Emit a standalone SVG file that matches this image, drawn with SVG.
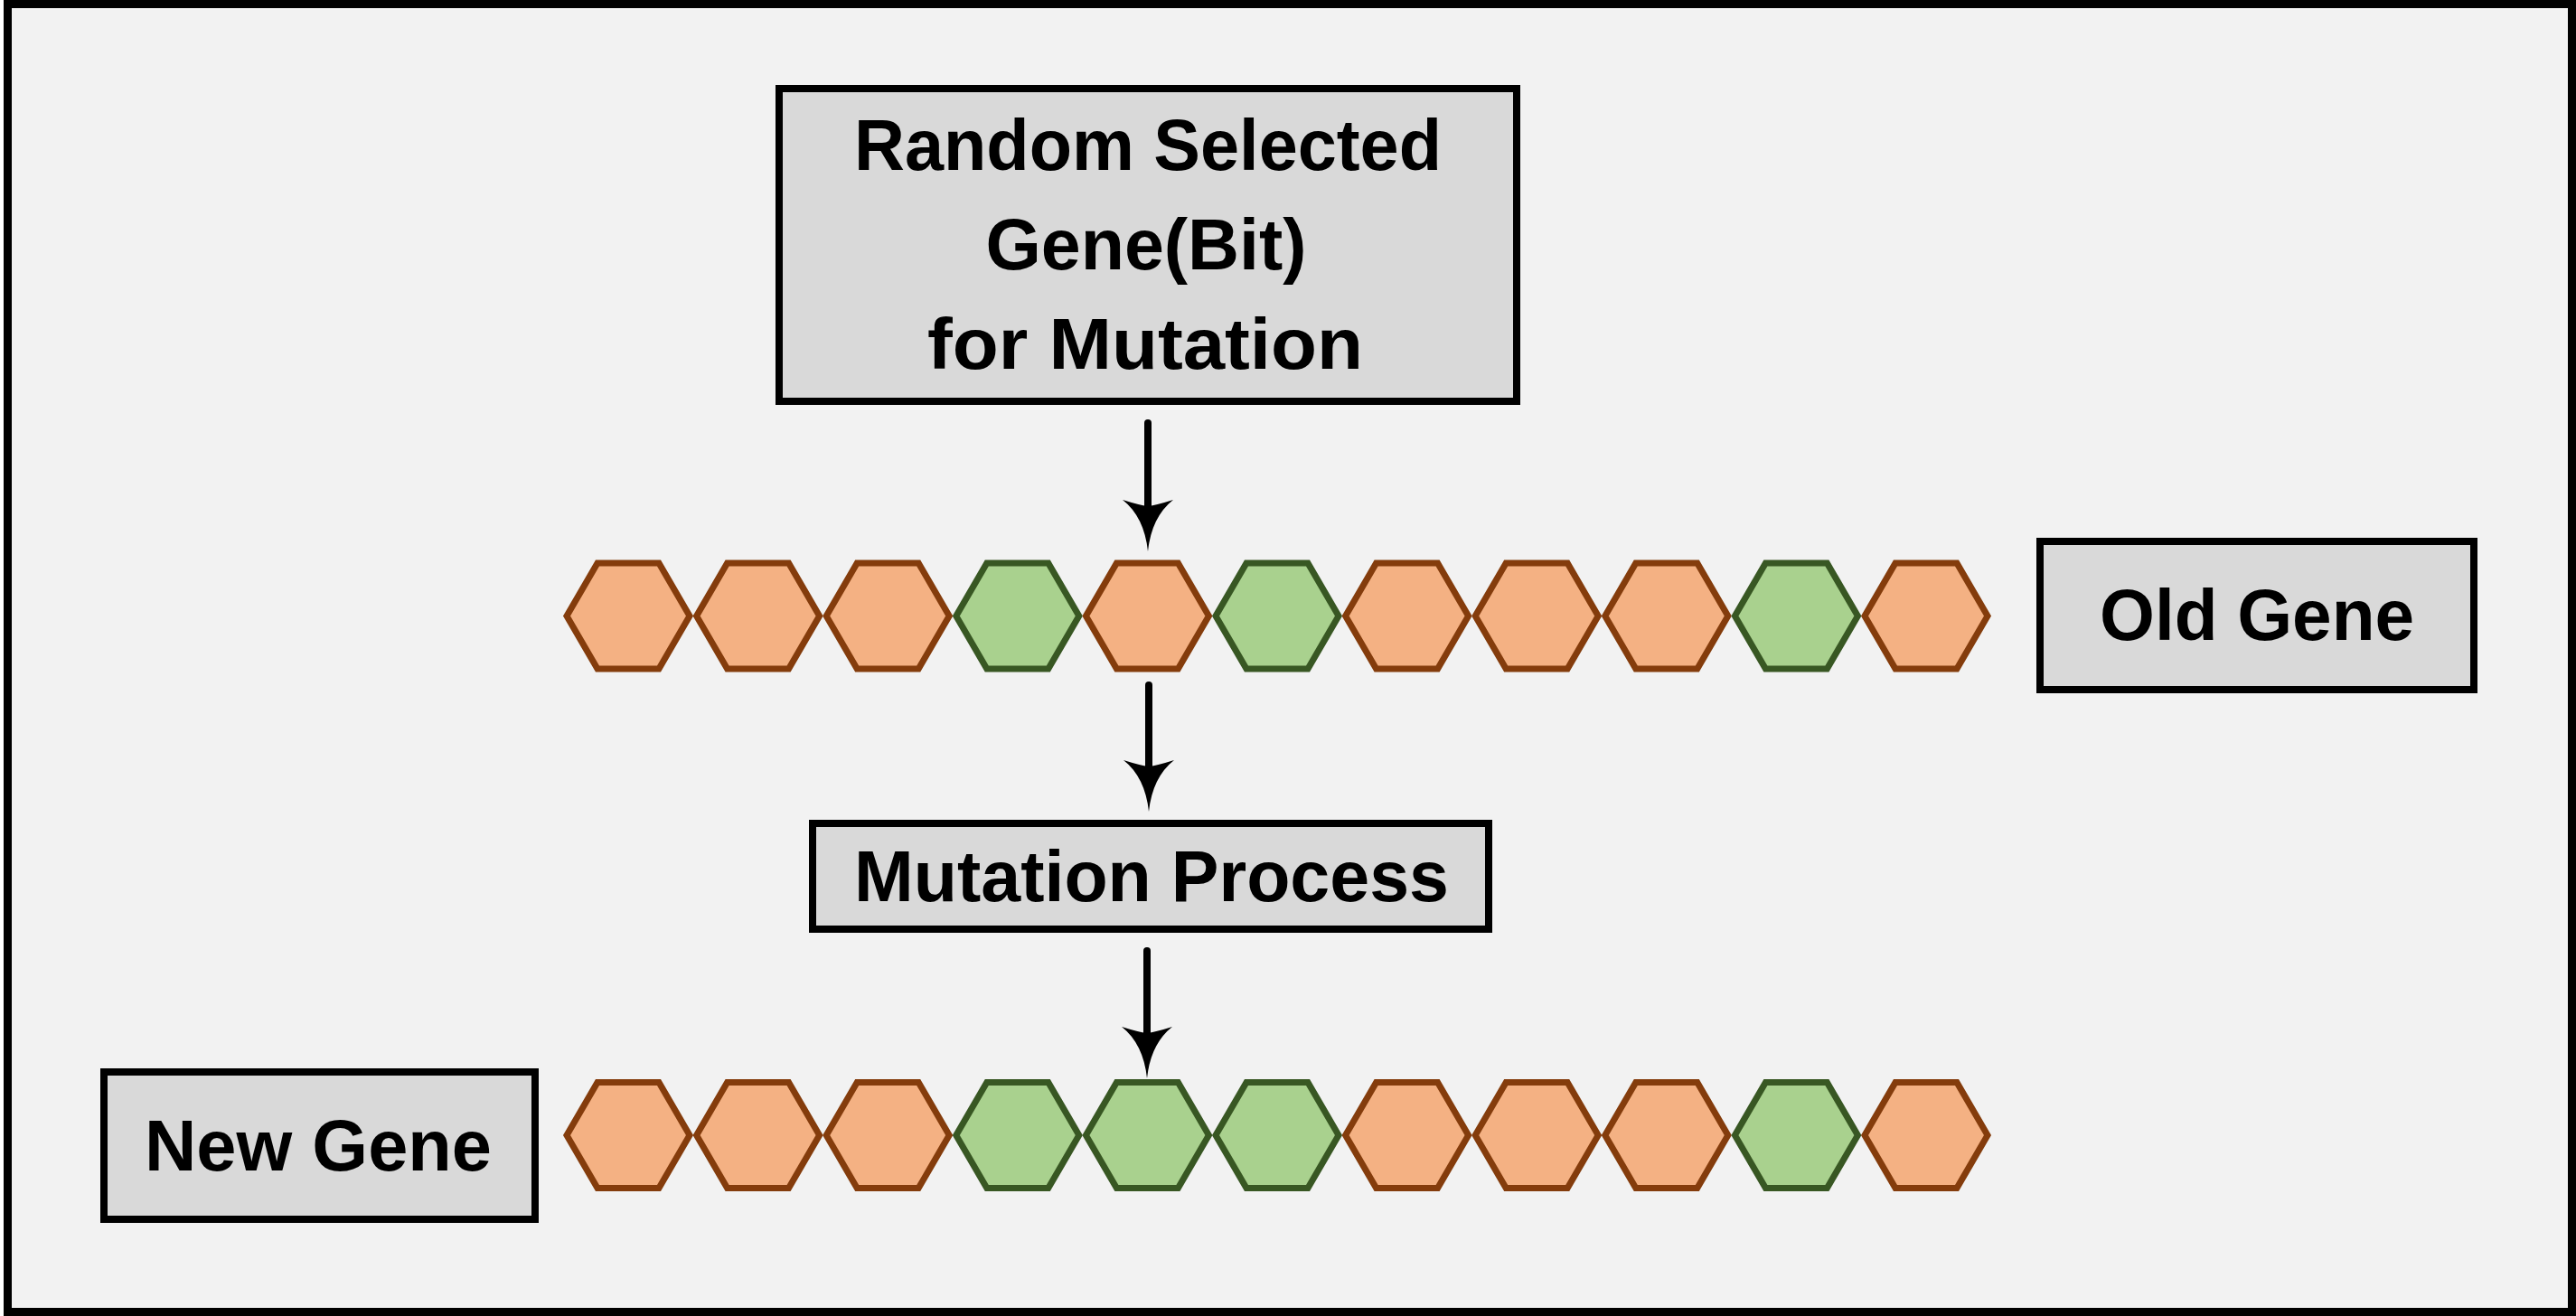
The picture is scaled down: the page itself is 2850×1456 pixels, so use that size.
<svg xmlns="http://www.w3.org/2000/svg" xmlns:xlink="http://www.w3.org/1999/xlink" width="2850" height="1456" viewBox="0 0 2850 1456">
<style>
.box{fill:#D9D9D9;stroke:#000;stroke-width:8}
.lbl{font-family:"Liberation Sans",Arial,sans-serif;font-weight:bold;font-size:79px;fill:#000;text-anchor:middle}
.o{fill:#F4B183;stroke:#843C0C;stroke-width:7;stroke-linejoin:miter}
.g{fill:#A9D18E;stroke:#385723;stroke-width:7;stroke-linejoin:miter}
.conn{stroke:#000;stroke-width:8;stroke-linecap:round;fill:none}
</style>
<defs>
<path id="hex" d="M-68,0 L-34,-58.5 L34,-58.5 L68,0 L34,58.5 L-34,58.5 Z"/>
<marker id="ah" markerUnits="userSpaceOnUse" viewBox="0 -30 60 60" markerWidth="60" markerHeight="60" refX="7" refY="0" orient="auto" overflow="visible">
<path d="M57,0 Q19,-4 0,-28 Q6,-9 7,0 Q6,9 0,28 Q19,4 57,0 Z" fill="#000"/>
</marker>
</defs>
<rect x="8.5" y="4.5" width="2837" height="1447" fill="#F2F2F2" stroke="#000" stroke-width="9"/>

<g id="random-selected">
<rect class="box" x="862" y="98" width="816" height="346"/>
<text class="lbl" x="1270" y="188" textLength="650" lengthAdjust="spacingAndGlyphs">Random Selected</text>
<text class="lbl" x="1268" y="298" textLength="355" lengthAdjust="spacingAndGlyphs">Gene(Bit)</text>
<text class="lbl" x="1267" y="408" textLength="482" lengthAdjust="spacingAndGlyphs">for Mutation</text>
</g>

<g id="old-gene-row">
<use xlink:href="#hex" class="o" x="695" y="681.5"/>
<use xlink:href="#hex" class="o" x="838.6" y="681.5"/>
<use xlink:href="#hex" class="o" x="982.2" y="681.5"/>
<use xlink:href="#hex" class="g" x="1125.8" y="681.5"/>
<use xlink:href="#hex" class="o" x="1269.4" y="681.5"/>
<use xlink:href="#hex" class="g" x="1413" y="681.5"/>
<use xlink:href="#hex" class="o" x="1556.6" y="681.5"/>
<use xlink:href="#hex" class="o" x="1700.2" y="681.5"/>
<use xlink:href="#hex" class="o" x="1843.8" y="681.5"/>
<use xlink:href="#hex" class="g" x="1987.4" y="681.5"/>
<use xlink:href="#hex" class="o" x="2131" y="681.5"/>
</g>

<g id="old-gene">
<rect class="box" x="2257" y="599" width="480" height="164"/>
<text class="lbl" x="2497" y="708" textLength="348" lengthAdjust="spacingAndGlyphs">Old Gene</text>
</g>

<g id="mutation-process">
<rect class="box" x="899" y="911" width="748" height="117"/>
<text class="lbl" x="1274" y="997" textLength="658" lengthAdjust="spacingAndGlyphs">Mutation Process</text>
</g>

<g id="new-gene-row">
<use xlink:href="#hex" class="o" x="695" y="1256"/>
<use xlink:href="#hex" class="o" x="838.6" y="1256"/>
<use xlink:href="#hex" class="o" x="982.2" y="1256"/>
<use xlink:href="#hex" class="g" x="1125.8" y="1256"/>
<use xlink:href="#hex" class="g" x="1269.4" y="1256"/>
<use xlink:href="#hex" class="g" x="1413" y="1256"/>
<use xlink:href="#hex" class="o" x="1556.6" y="1256"/>
<use xlink:href="#hex" class="o" x="1700.2" y="1256"/>
<use xlink:href="#hex" class="o" x="1843.8" y="1256"/>
<use xlink:href="#hex" class="g" x="1987.4" y="1256"/>
<use xlink:href="#hex" class="o" x="2131" y="1256"/>
</g>

<g id="new-gene">
<rect class="box" x="115" y="1186" width="477" height="163"/>
<text class="lbl" x="352" y="1295" textLength="384" lengthAdjust="spacingAndGlyphs">New Gene</text>
</g>

<g id="connectors">
<line class="conn" x1="1270" y1="468" x2="1270" y2="560" marker-end="url(#ah)"/>
<line class="conn" x1="1271" y1="758" x2="1271" y2="848" marker-end="url(#ah)"/>
<line class="conn" x1="1269" y1="1052" x2="1269" y2="1143" marker-end="url(#ah)"/>
</g>
</svg>
